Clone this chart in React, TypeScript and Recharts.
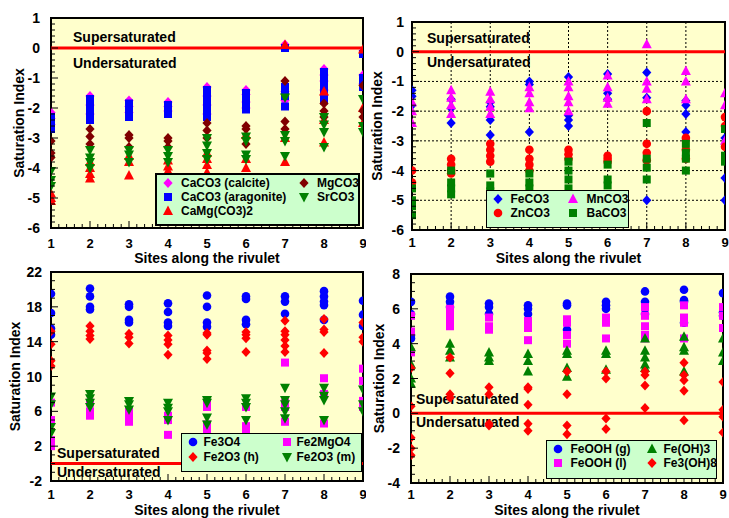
import React from 'react';
import {
  ScatterChart,
  Scatter,
  XAxis,
  YAxis,
  CartesianGrid,
  ReferenceLine,
  ReferenceArea,
  Legend,
} from 'recharts';

const FONT = '"Liberation Sans", Arial, Helvetica, sans-serif';

// ---------- categories / tick labels ----------
const SITES = [1, 2, 3, 4, 5, 6, 7, 8, 9];
const X_TITLE = 'Sites along the rivulet';
const Y_TITLE = 'Saturation Index';
const SUPER = 'Supersaturated';
const UNDER = 'Undersaturated';

const yTicksA = [-6, -5, -4, -3, -2, -1, 0, 1];
const yTicksB = [-6, -5, -4, -3, -2, -1, 0, 1];
const yTicksC = [-2, 2, 6, 10, 14, 18, 22];
const yTicksD = [-4, -2, 0, 2, 4, 6, 8];

// ---------- panel A: carbonates of Ca, Mg, Sr ----------
const calcite = [
  [-2.15, -2.35, -2.55],
  [-1.6, -1.9, -2.2],
  [-1.75, -1.95, -2.15],
  [-1.8, -1.95, -2.1],
  [-1.3, -1.6, -1.9, -2.2],
  [-1.4, -1.55, -1.8, -2.0],
  [0.12, -1.45, -1.75],
  [-0.7, -0.9, -1.1, -1.4],
  [-0.1, -0.9, -1.2],
];
const aragonite = [
  [-2.3, -2.45, -2.6, -2.7],
  [-1.7, -1.85, -2.0, -2.15, -2.3, -2.4],
  [-1.85, -2.0, -2.15, -2.3],
  [-1.9, -2.05, -2.2],
  [-1.4, -1.55, -1.7, -1.85, -2.0, -2.15, -2.3],
  [-1.5, -1.65, -1.9, -2.05],
  [0.0, -1.3, -1.45, -1.6, -1.95],
  [-0.8, -0.95, -1.1, -1.25, -1.4, -1.55, -1.75],
  [-0.2, -1.0, -1.15, -1.3],
];
const dolomite = [
  [-4.85, -5.0, -5.1],
  [-3.8, -4.0, -4.2, -4.35],
  [-3.6, -3.8, -4.25],
  [-3.75, -3.95, -4.1],
  [-3.5, -3.7, -3.9, -4.15],
  [-2.9, -3.7, -4.0],
  [0.1, -3.0, -3.8],
  [-1.45, -2.4, -3.15],
  [-0.05, -2.0, -2.5],
];
const mgco3 = [
  [-3.1, -3.5, -3.65],
  [-2.7, -2.95, -3.2],
  [-2.9, -3.0, -3.3],
  [-3.0, -3.1, -3.3],
  [-2.5, -2.75, -3.0],
  [-2.6, -2.7, -3.2],
  [-1.1, -2.45, -2.7],
  [-1.85, -2.1, -2.3],
  [-1.25, -2.1, -2.3],
];
const srco3 = [
  [-4.1, -4.4, -4.6],
  [-3.4, -3.65, -3.8, -4.0],
  [-3.4, -3.55, -3.8],
  [-3.4, -3.6, -3.8],
  [-3.0, -3.25, -3.5, -3.7],
  [-2.95, -3.1, -3.55, -3.7],
  [-1.65, -2.9, -3.1, -3.6],
  [-2.3, -2.55, -2.8, -3.3],
  [-1.7, -2.6, -2.8],
];

// ---------- panel B: carbonates of Fe, Zn, Mn, Ba ----------
const feco3 = [
  [-1.3, -1.5, -1.8],
  [-1.6, -1.9, -2.4],
  [-1.7, -1.85, -2.3, -2.8],
  [-1.0, -1.1, -2.7],
  [-0.85, -2.15, -2.3, -2.5],
  [-0.75, -1.4, -1.6],
  [-0.7, -1.55, -5.0],
  [-1.65, -1.8, -2.1, -2.7],
  [-2.9, -4.25, -5.0],
];
const mnco3 = [
  [-1.7, -2.0, -2.4],
  [-1.3, -1.55, -1.8, -2.1],
  [-1.35, -1.6, -1.85, -2.1],
  [-1.2, -1.4, -1.7, -1.9],
  [-1.0, -1.2, -1.5, -1.7, -2.0],
  [-0.8, -1.2, -1.55, -1.75],
  [0.25, -1.0, -1.25, -1.6],
  [-0.65, -1.0, -1.6],
  [-1.4, -1.8, -3.0],
];
const znco3 = [
  [-4.0, -4.4],
  [-3.6, -3.8, -4.0, -4.1],
  [-3.1, -3.3, -3.5, -3.7],
  [-3.3, -3.6, -3.8, -4.0],
  [-3.3, -3.45, -3.6],
  [-3.5, -3.6, -3.7],
  [-2.0, -3.1, -3.4, -3.65],
  [-2.9, -3.3, -3.6],
  [-2.2, -2.5, -3.2],
];
const baco3 = [
  [-4.6, -5.0, -5.2, -5.5],
  [-4.0, -4.4, -4.6, -4.8],
  [-4.1, -4.5, -4.7],
  [-4.1, -4.4, -4.6],
  [-3.7, -4.0, -4.3, -4.6],
  [-3.8, -4.3, -4.5],
  [-2.4, -3.6, -3.9, -4.3],
  [-3.1, -3.4, -3.6, -4.0],
  [-2.6, -3.5, -3.7],
];

// ---------- panel C: iron oxides ----------
const fe3o4 = [
  [19.5, 17.3, 15.5, 14.8],
  [20.1, 19.2, 18.0, 17.7],
  [18.3, 18.0, 16.5, 16.2],
  [18.4, 17.4, 16.2, 15.8],
  [19.3, 18.0, 16.2, 15.7],
  [19.2, 18.9, 16.5, 16.0],
  [19.2, 18.6, 17.2],
  [19.8, 19.2, 18.6, 18.2, 16.5],
  [18.7, 17.1, 15.8],
];
const fe2o3h = [
  [15.2, 13.7, 11.8, 11.2],
  [15.8, 15.2, 14.7, 14.3],
  [14.9, 14.5, 13.8],
  [14.7, 14.2, 13.7, 12.5],
  [15.0, 14.8, 13.0, 12.7, 12.0],
  [15.1, 14.8, 14.4, 12.8],
  [16.4, 15.2, 14.8, 14.2, 13.5, 12.8],
  [16.6, 15.4, 15.1, 12.7],
  [16.2, 14.5, 14.0],
];
const fe2mgo4 = [
  [7.0, 5.0, 2.7, 2.0],
  [7.0, 6.0, 5.5],
  [6.0, 5.3, 4.8],
  [5.5, 5.0, 3.3],
  [7.0, 6.5, 4.5, 3.8],
  [6.5, 4.3, 3.8],
  [11.6, 7.0, 6.5, 4.8],
  [9.8, 8.0, 4.6],
  [10.9, 9.5, 7.2, 6.5],
];
const fe2o3m = [
  [7.7, 6.8, 4.2, 3.5],
  [8.0, 7.5, 7.0, 6.5],
  [7.2, 6.8, 6.2],
  [7.0, 6.4, 6.0, 5.0],
  [7.3, 7.0, 5.3, 4.5],
  [7.5, 7.0, 6.5, 5.0],
  [8.7, 7.3, 6.8, 6.0, 5.2],
  [8.7, 7.8, 7.3, 5.0],
  [8.5, 6.8, 6.0],
];

// ---------- panel D: iron hydroxides ----------
const feoohG = [
  [6.4, 5.7, 4.5, 4.3],
  [6.7, 6.4, 6.1],
  [6.3, 6.1, 5.7],
  [6.2, 6.0, 5.7],
  [6.3, 6.2, 4.8],
  [6.4, 6.2, 6.0],
  [7.0, 6.4, 5.7],
  [7.1, 6.5, 6.4, 5.2],
  [6.9, 5.8, 5.6],
];
const feoohL = [
  [5.6, 4.7, 3.5],
  [6.0, 5.6, 5.3, 5.0],
  [5.5, 5.0, 4.8],
  [5.3, 4.9, 4.2],
  [5.4, 5.2, 4.5, 4.0],
  [5.5, 5.2, 4.3],
  [6.1, 5.6, 5.0, 4.5, 4.3],
  [6.2, 5.5, 5.2, 4.3],
  [6.1, 5.6, 4.9],
];
const feoh3 = [
  [3.8, 2.8, 2.0, 1.7],
  [4.0, 3.6, 3.2],
  [3.5, 3.2, 3.0],
  [3.4, 3.0, 2.4],
  [3.6, 3.4, 2.6, 2.1],
  [3.6, 3.4, 2.5],
  [4.3, 3.6, 3.2, 2.8, 2.6],
  [4.4, 3.8, 3.6, 2.4],
  [4.3, 3.5, 3.0],
];
const fe3oh8 = [
  [2.6, 0.4, -1.4, -2.0, -2.4],
  [3.2, 2.3, 1.1, 0.9],
  [1.5, 1.1, -0.6, -0.7],
  [1.5, 1.4, 0.5, -0.6, -1.0],
  [2.4, 1.1, -0.7, -1.2],
  [2.4, 2.0, -0.3, -0.9],
  [2.4, 2.2, 1.6, 0.3],
  [2.9, 2.2, 1.9, 1.3, -0.4],
  [1.8, 0.2, 0.0, -0.2, -1.1],
];

// ---------- helpers ----------
const MAGENTA = '#FF00FF';
const BLUE = '#0000FF';
const RED = '#FF0000';
const MAROON = '#800000';
const GREEN = '#008000';

function pts(cols: number[][]) {
  return cols.flatMap((ys, i) => ys.map((y) => ({ x: SITES[i], y })));
}

function steps(min: number, max: number, step: number) {
  const n = Math.round((max - min) / step);
  return Array.from({ length: n + 1 }, (_, i) => +(min + i * step).toFixed(4));
}

type Shape = 'circle' | 'square' | 'diamond' | 'triangle' | 'triangleDown';

function MarkerShape({ shape, cx, cy, color }: { shape: Shape; cx: number; cy: number; color: string }) {
  if (cx == null || cy == null || isNaN(cx) || isNaN(cy)) return null;
  switch (shape) {
    case 'circle':
      return <circle cx={cx} cy={cy} r={4.3} fill={color} />;
    case 'square':
      return <rect x={cx - 4} y={cy - 4} width={8} height={8} fill={color} />;
    case 'diamond':
      return (
        <polygon
          points={`${cx},${cy - 5} ${cx + 4.6},${cy} ${cx},${cy + 5} ${cx - 4.6},${cy}`}
          fill={color}
        />
      );
    case 'triangle':
      return (
        <polygon points={`${cx},${cy - 5.5} ${cx + 5},${cy + 4} ${cx - 5},${cy + 4}`} fill={color} />
      );
    case 'triangleDown':
      return (
        <polygon points={`${cx},${cy + 5.5} ${cx + 5},${cy - 4} ${cx - 5},${cy - 4}`} fill={color} />
      );
    default:
      return null;
  }
}

type Series = { name: string; values: number[][]; color: string; shape: Shape; col: number; row: number };

type Panel = {
  key: string;
  left: number;
  top: number;
  width: number;
  height: number;
  margin: { top: number; right: number; left: number; bottom: number };
  yAxisWidth: number;
  xAxisHeight: number;
  yDomain: [number, number];
  yMajor: number[];
  yMajorStep: number;
  yMinorStep: number;
  grid: boolean;
  series: Series[];
  legend: { left: number; top: number; width: number; height: number; rows: number[]; cols: { icon: number; text: number }[]; border: number };
  zero: { dx: number; up: number; down: number };
  xTickDy: number;
  xTitleDy: number;
  yTitleX: number;
  yTickGap: number;
};

const panels: Panel[] = [
  {
    key: 'A',
    left: 0,
    top: 0,
    width: 366,
    height: 268,
    margin: { top: 18, right: 3, left: 0, bottom: 0 },
    yAxisWidth: 51,
    xAxisHeight: 40,
    yDomain: [-6, 1],
    yMajor: yTicksA,
    yMajorStep: 1,
    yMinorStep: 0.2,
    grid: false,
    series: [
      { name: 'CaCO3 (calcite)', values: calcite, color: MAGENTA, shape: 'diamond', col: 0, row: 0 },
      { name: 'CaCO3 (aragonite)', values: aragonite, color: BLUE, shape: 'square', col: 0, row: 1 },
      { name: 'CaMg(CO3)2', values: dolomite, color: RED, shape: 'triangle', col: 0, row: 2 },
      { name: 'MgCO3', values: mgco3, color: MAROON, shape: 'diamond', col: 1, row: 0 },
      { name: 'SrCO3', values: srco3, color: GREEN, shape: 'triangleDown', col: 1, row: 1 },
    ],
    legend: { left: 155, top: 173, width: 205, height: 53, rows: [10, 24, 38], cols: [{ icon: 13, text: 26 }, { icon: 149, text: 162 }], border: 2 },
    zero: { dx: 22, up: 6, down: 20 },
    xTickDy: 20,
    xTitleDy: 35,
    yTitleX: 19,
    yTickGap: 11,
  },
  {
    key: 'B',
    left: 364,
    top: 0,
    width: 365,
    height: 268,
    margin: { top: 22, right: 4, left: 0, bottom: 0 },
    yAxisWidth: 48,
    xAxisHeight: 38,
    yDomain: [-6, 1],
    yMajor: yTicksB,
    yMajorStep: 1,
    yMinorStep: 0.2,
    grid: true,
    series: [
      { name: 'FeCO3', values: feco3, color: BLUE, shape: 'diamond', col: 0, row: 0 },
      { name: 'MnCO3', values: mnco3, color: MAGENTA, shape: 'triangle', col: 1, row: 0 },
      { name: 'ZnCO3', values: znco3, color: RED, shape: 'circle', col: 0, row: 1 },
      { name: 'BaCO3', values: baco3, color: GREEN, shape: 'square', col: 1, row: 1 },
    ],
    legend: { left: 122, top: 190, width: 143, height: 38, rows: [9, 23], cols: [{ icon: 12, text: 25 }, { icon: 87, text: 101 }], border: 1.5 },
    zero: { dx: 15, up: 9, down: 15 },
    xTickDy: 17,
    xTitleDy: 33,
    yTitleX: 13,
    yTickGap: 8,
  },
  {
    key: 'C',
    left: 0,
    top: 250,
    width: 366,
    height: 268,
    margin: { top: 22, right: 3, left: 0, bottom: 0 },
    yAxisWidth: 51,
    xAxisHeight: 37,
    yDomain: [-2, 22],
    yMajor: yTicksC,
    yMajorStep: 4,
    yMinorStep: 1,
    grid: false,
    series: [
      { name: 'Fe3O4', values: fe3o4, color: BLUE, shape: 'circle', col: 0, row: 0 },
      { name: 'Fe2O3 (h)', values: fe2o3h, color: RED, shape: 'diamond', col: 0, row: 1 },
      { name: 'Fe2MgO4', values: fe2mgo4, color: MAGENTA, shape: 'square', col: 1, row: 0 },
      { name: 'Fe2O3 (m)', values: fe2o3m, color: GREEN, shape: 'triangleDown', col: 1, row: 1 },
    ],
    legend: { left: 181, top: 183, width: 181, height: 39, rows: [9, 24], cols: [{ icon: 12, text: 23 }, { icon: 106, text: 116 }], border: 1.5 },
    zero: { dx: 6, up: 6, down: 13 },
    xTickDy: 18,
    xTitleDy: 34,
    yTitleX: 15,
    yTickGap: 9,
  },
  {
    key: 'D',
    left: 364,
    top: 250,
    width: 365,
    height: 268,
    margin: { top: 24, right: 6, left: 0, bottom: 0 },
    yAxisWidth: 47,
    xAxisHeight: 35,
    yDomain: [-4, 8],
    yMajor: yTicksD,
    yMajorStep: 2,
    yMinorStep: 0.5,
    grid: false,
    series: [
      { name: 'FeOOH (g)', values: feoohG, color: BLUE, shape: 'circle', col: 0, row: 0 },
      { name: 'FeOOH (l)', values: feoohL, color: MAGENTA, shape: 'square', col: 0, row: 1 },
      { name: 'Fe(OH)3', values: feoh3, color: GREEN, shape: 'triangle', col: 1, row: 0 },
      { name: 'Fe3(OH)8', values: fe3oh8, color: RED, shape: 'diamond', col: 1, row: 1 },
    ],
    legend: { left: 182, top: 190, width: 171, height: 39, rows: [9, 23], cols: [{ icon: 12, text: 25 }, { icon: 106, text: 118 }], border: 1.5 },
    zero: { dx: 5, up: 9, down: 14 },
    xTickDy: 16,
    xTitleDy: 32,
    yTitleX: 15,
    yTickGap: 11,
  },
];

const X_MINOR = steps(1, 9, 0.2);

function isMajor(v: number, step: number) {
  const r = v / step;
  return Math.abs(r - Math.round(r)) < 1e-6;
}

function LegendBox({ p }: { p: Panel }) {
  const L = p.legend;
  return (
    <div
      style={{
        position: 'relative',
        width: L.width,
        height: L.height,
        background: '#CCFFCC',
        border: `${L.border}px solid #000`,
        boxSizing: 'border-box',
        fontFamily: FONT,
      }}
    >
      {p.series.map((s) => {
        const cy = L.rows[s.row] - L.border;
        const col = L.cols[s.col];
        return (
          <React.Fragment key={s.name}>
            <svg
              width={14}
              height={14}
              style={{ position: 'absolute', left: col.icon - 7 - L.border, top: cy - 7, overflow: 'visible' }}
            >
              <MarkerShape shape={s.shape} cx={7} cy={7} color={s.color} />
            </svg>
            <span
              style={{
                position: 'absolute',
                left: col.text - L.border,
                top: cy - 8,
                lineHeight: '16px',
                fontSize: 12,
                fontWeight: 'bold',
                color: '#000',
                whiteSpace: 'nowrap',
              }}
            >
              {s.name}
            </span>
          </React.Fragment>
        );
      })}
    </div>
  );
}

function PanelChart({ p }: { p: Panel }) {
  const yMinor = steps(p.yDomain[0], p.yDomain[1], p.yMinorStep);
  const plotTop = p.margin.top;
  const plotH = p.height - p.margin.top - p.margin.bottom - p.xAxisHeight;
  const plotLeft = p.margin.left + p.yAxisWidth;
  const plotW = p.width - plotLeft - p.margin.right;

  const xTick = (props: any) => {
    const { x, y, payload } = props;
    const v = payload.value;
    const major = isMajor(v, 1);
    return (
      <g>
        <line x1={x} x2={x} y1={y} y2={y - (major ? 7 : 4)} stroke="#000" strokeWidth={1} />
        {major && (
          <text x={x} y={y + p.xTickDy} textAnchor="middle" fontSize={13} fontWeight="bold" fontFamily={FONT} fill="#000">
            {v}
          </text>
        )}
      </g>
    );
  };

  const yTick = (props: any) => {
    const { x, y, payload } = props;
    const v = payload.value;
    const major = isMajor(v - p.yDomain[0], p.yMajorStep);
    return (
      <g>
        <line x1={x} x2={x + (major ? 7 : 4)} y1={y} y2={y} stroke="#000" strokeWidth={1} />
        {major && (
          <text x={x - p.yTickGap} y={y + 5} textAnchor="end" fontSize={14} fontWeight="bold" fontFamily={FONT} fill="#000">
            {v}
          </text>
        )}
      </g>
    );
  };

  const xTitle = () => (
    <text
      x={plotLeft + plotW / 2}
      y={plotTop + plotH + p.xTitleDy}
      textAnchor="middle"
      fontSize={14}
      fontWeight="bold"
      fontFamily={FONT}
      fill="#000"
    >
      {X_TITLE}
    </text>
  );

  const yTitle = () => {
    const cx = p.yTitleX;
    const cy = plotTop + plotH / 2;
    return (
      <text
        x={cx}
        y={cy}
        transform={`rotate(-90 ${cx} ${cy})`}
        textAnchor="middle"
        dominantBaseline="central"
        fontSize={14}
        fontWeight="bold"
        fontFamily={FONT}
        fill="#000"
      >
        {Y_TITLE}
      </text>
    );
  };

  const zeroLabel = (props: any) => {
    const vb = props.viewBox || props;
    const ly = vb.y;
    const lx = plotLeft + p.zero.dx;
    return (
      <g>
        <text x={lx} y={ly - p.zero.up} fontSize={14} fontWeight="bold" fontFamily={FONT} fill="#000">
          {SUPER}
        </text>
        <text x={lx} y={ly + p.zero.down} fontSize={14} fontWeight="bold" fontFamily={FONT} fill="#000">
          {UNDER}
        </text>
      </g>
    );
  };

  return (
    <div style={{ position: 'absolute', left: p.left, top: p.top, width: p.width, height: p.height }}>
      <ScatterChart width={p.width} height={p.height} margin={p.margin}>
        <CartesianGrid
          fill="#FFFFCC"
          horizontal={p.grid}
          vertical={p.grid}
          horizontalValues={p.yMajor}
          verticalValues={SITES}
          stroke="#000"
          strokeDasharray="2 2"
          strokeWidth={1}
        />
        <XAxis
          type="number"
          dataKey="x"
          domain={[1, 9]}
          ticks={X_MINOR}
          interval={0}
          allowDataOverflow
          axisLine={false}
          tickLine={false}
          tickSize={0}
          tickMargin={0}
          height={p.xAxisHeight}
          tick={xTick}
          label={xTitle}
        />
        <YAxis
          type="number"
          dataKey="y"
          domain={p.yDomain}
          ticks={yMinor}
          interval={0}
          allowDataOverflow
          axisLine={false}
          tickLine={false}
          tickSize={0}
          tickMargin={0}
          width={p.yAxisWidth}
          tick={yTick}
          label={yTitle}
        />
        <ReferenceLine y={0} stroke={RED} strokeWidth={3} label={zeroLabel} ifOverflow="extendDomain" />
        {p.series.map((s) => (
          <Scatter
            key={s.name}
            name={s.name}
            data={pts(s.values)}
            fill={s.color}
            isAnimationActive={false}
            shape={(props: any) => <MarkerShape shape={s.shape} cx={props.cx} cy={props.cy} color={s.color} />}
          />
        ))}
        <ReferenceArea x1={1} x2={9} y1={p.yDomain[0]} y2={p.yDomain[1]} fill="none" stroke="#000" strokeWidth={2} />
        <Legend
          layout="horizontal"
          verticalAlign="middle"
          align="center"
          wrapperStyle={{ left: p.legend.left, top: p.legend.top, width: p.legend.width, height: p.legend.height }}
          content={() => <LegendBox p={p} />}
        />
      </ScatterChart>
    </div>
  );
}

export default function App() {
  return (
    <div
      style={{
        position: 'absolute',
        left: 0,
        top: 0,
        width: 729,
        height: 518,
        background: '#FFFFFF',
        fontFamily: FONT,
        overflow: 'hidden',
      }}
    >
      {panels.map((p) => (
        <PanelChart key={p.key} p={p} />
      ))}
    </div>
  );
}
